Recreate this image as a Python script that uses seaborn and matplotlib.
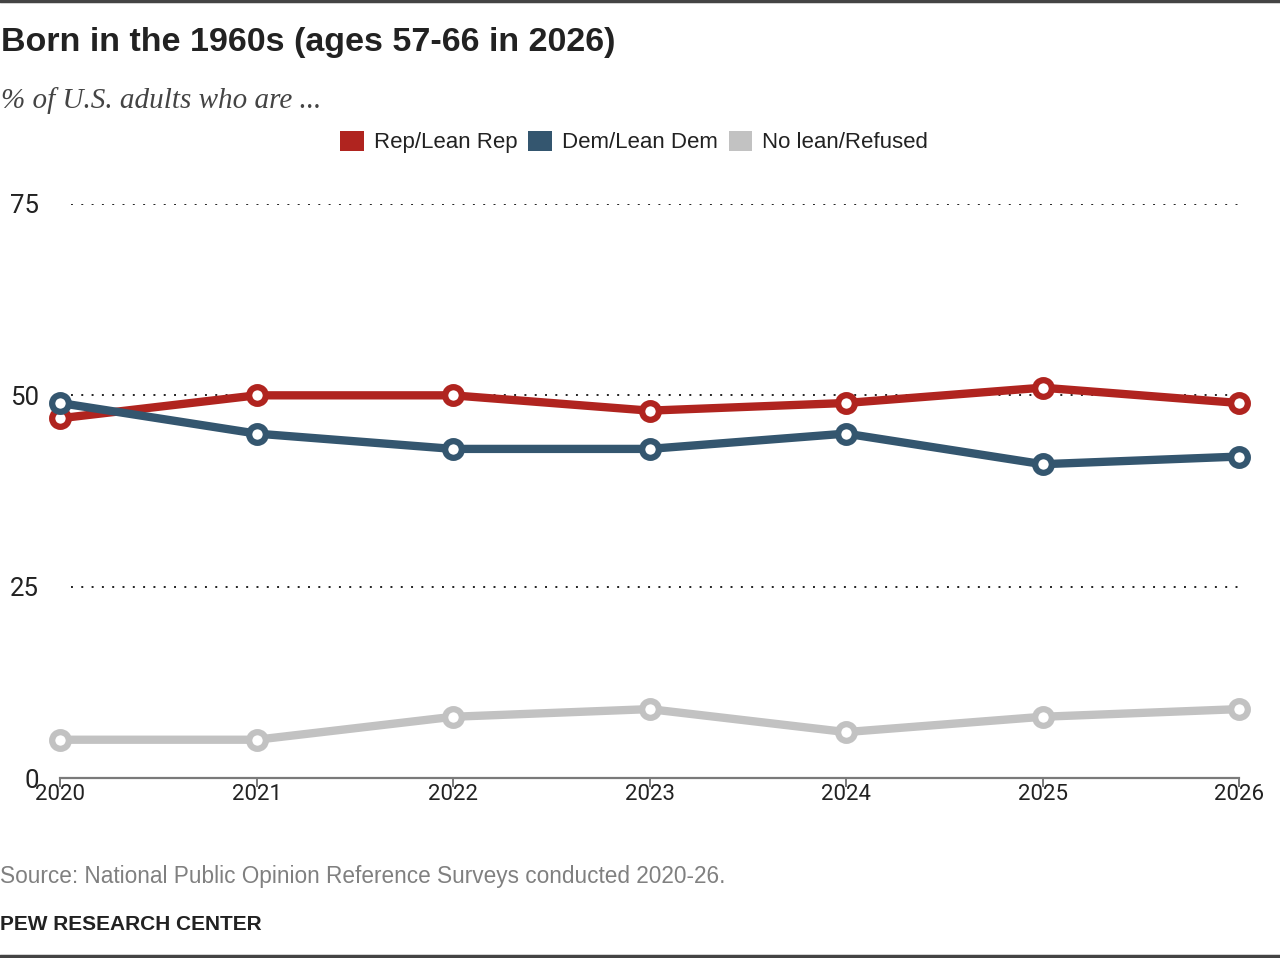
import matplotlib
matplotlib.use("Agg")
import matplotlib.pyplot as plt
from matplotlib.patches import Patch
import seaborn as sns
import pandas as pd

years = [2020, 2021, 2022, 2023, 2024, 2025, 2026]
rep = [47, 50, 50, 48, 49, 51, 49]
dem = [49, 45, 43, 43, 45, 41, 42]
nolean = [5, 5, 8, 9, 6, 8, 9]
series_names = ["Rep/Lean Rep", "Dem/Lean Dem", "No lean/Refused"]
colors = ["#B0241F", "#34566F", "#C2C2C2"]
yticks = [0, 25, 50, 75]
gridvals = [25, 50, 75]

sns.set_theme(style="white")
plt.rcParams["font.family"] = ["Liberation Sans", "DejaVu Sans"]

W, H = 1280, 958
fig = plt.figure(figsize=(W / 100, H / 100), dpi=100)
ax = fig.add_axes([60 / W, 1 - 778 / H, (1239 - 60) / W, (778 - 204) / H])

df = pd.DataFrame({
    "year": years * 3,
    "value": rep + dem + nolean,
    "series": [series_names[0]] * 7 + [series_names[1]] * 7 + [series_names[2]] * 7,
})

order = [2, 0, 1]
for z, i in enumerate(order):
    name = series_names[i]
    sns.lineplot(data=df[df["series"] == name], x="year", y="value", ax=ax,
                 color=colors[i], linewidth=6, marker="o", markersize=12,
                 markerfacecolor="white", markeredgecolor=colors[i],
                 markeredgewidth=4.5, clip_on=False, zorder=3 + z,
                 legend=False)

ax.set_xlim(2020, 2026)
ax.set_ylim(0, 75)
ax.set_xticks(years)
ax.set_xticklabels([str(y) for y in years])
ax.set_yticks(yticks)
ax.set_yticklabels([str(t) for t in yticks])
ax.set_xlabel("")
ax.set_ylabel("")

for s in ["top", "right", "left"]:
    ax.spines[s].set_visible(False)
ax.spines["bottom"].set_color("#7a7a7a")
ax.spines["bottom"].set_linewidth(1.6)
ax.spines["bottom"].set_zorder(2)

ax.tick_params(axis="x", which="major", direction="out", length=6.5, width=1.4,
               color="#7a7a7a", pad=-2.0, labelsize=16, labelcolor="#222222", bottom=True)
ax.tick_params(axis="y", length=0, pad=15, labelsize=18.5, labelcolor="#222222")
for lab in ax.get_yticklabels() + ax.get_xticklabels():
    lab.set_fontfamily(["Roboto", "DejaVu Sans"])

ax.grid(False)
ax.hlines(gridvals, 2020.055, 2026, colors="#222222", linestyles=(0, (1, 4.3)),
          linewidth=1.4, zorder=1)

# Title, subtitle
fig.text(1 / W, 1 - 43 / H, "Born in the 1960s (ages 57-66 in 2026)", fontsize=24.5,
         fontweight="bold", va="center", ha="left", color="#222222")
fig.text(1 / W, 1 - 101 / H, "% of U.S. adults who are ...", fontsize=21,
         style="italic", va="center", ha="left", color="#444444",
         family=["Liberation Serif", "DejaVu Serif"])

handles = [Patch(facecolor=c, edgecolor="none") for c in colors]
fig.legend(handles, series_names, ncol=3, loc="center",
           bbox_to_anchor=(634 / W, 1 - 142 / H), frameon=False, fontsize=16,
           handlelength=1.05, handleheight=1.05, handletextpad=0.45,
           columnspacing=0.5, labelcolor="#222222")

fig.text(0, 1 - 877 / H, "Source: National Public Opinion Reference Surveys conducted 2020-26.",
         fontsize=16.3, color="#808080", va="center", ha="left")
fig.text(0, 1 - 925 / H, "PEW RESEARCH CENTER", fontsize=15, fontweight="bold",
         color="#222222", va="center", ha="left")

fig.add_artist(plt.Line2D([0, 1], [1 - 1 / H, 1 - 1 / H], color="#444444", linewidth=2.5,
                          transform=fig.transFigure))
fig.add_artist(plt.Line2D([0, 1], [1 - 955.5 / H, 1 - 955.5 / H], color="#444444", linewidth=2.5,
                          transform=fig.transFigure))

fig.savefig("out.png", dpi=100)
